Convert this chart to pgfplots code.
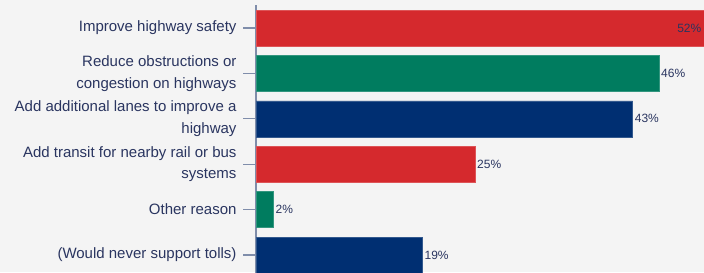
\documentclass[border=0pt]{standalone}
\usepackage{fontspec}
\setmainfont{Liberation Sans}
\usepackage{pgfplots}
\pgfplotsset{compat=1.18}
\definecolor{bg}{HTML}{F4F4F4}
\definecolor{cred}{HTML}{D5292D}
\definecolor{cgreen}{HTML}{007C5F}
\definecolor{cnavy}{HTML}{002F72}
\definecolor{txt}{HTML}{2A3560}
\definecolor{axc}{HTML}{7F8DAA}
\begin{document}
\begin{tikzpicture}[x=1bp,y=1bp]
\path[use as bounding box, clip] (0,0) rectangle (704,272);
\fill[bg] (0,0) rectangle (704,272);
\begin{axis}[
  at={(256bp,266.7bp)}, anchor=north west,
  scale only axis,
  x=8.76bp, y=45.4bp,
  xmin=0, xmax=52, ymin=-0.5, ymax=5.5, y dir=reverse,
  xbar, bar width=36bp, bar shift=0pt,
  axis x line=none, axis y line=left,
  axis line style={-, draw=axc, line width=1.2pt},
  xtick=\empty,
  ytick={0,1,2,3,4,5},
  yticklabels={Improve highway safety, Reduce obstructions or\\congestion on highways, Add additional lanes to improve a\\highway, Add transit for nearby rail or bus\\systems, Other reason, (Would never support tolls)},
  yticklabel style={align=right, text=txt, font=\fontsize{15bp}{21.7bp}\selectfont, xshift=-3bp},
  tick style={draw=axc, line width=1.2pt},
  tick align=outside, major tick length=13bp,
  /pgf/number format/assume math mode=true,
  point meta=x,
  every node near coord/.append style={anchor=west, text=txt, font=\fontsize{12bp}{14bp}\selectfont, inner sep=2pt},
  clip=false,
]
\addplot[fill=cred, draw=cred!80!white] coordinates {(52,0)};
\addplot[fill=cred, draw=cred!80!white, nodes near coords={\pgfmathprintnumber\pgfplotspointmeta\%}] coordinates {(25,3)};
\addplot[fill=cgreen, draw=cgreen!80!white, nodes near coords={\pgfmathprintnumber\pgfplotspointmeta\%}] coordinates {(46,1) (2,4)};
\addplot[fill=cnavy, draw=cnavy!80!white, nodes near coords={\pgfmathprintnumber\pgfplotspointmeta\%}] coordinates {(43,2) (19,5)};
\node[anchor=east, text=txt, font=\fontsize{12bp}{14bp}\selectfont, inner sep=0pt, xshift=-10bp] at (axis cs:52,0) {52\%};
\end{axis}
\end{tikzpicture}
\end{document}
